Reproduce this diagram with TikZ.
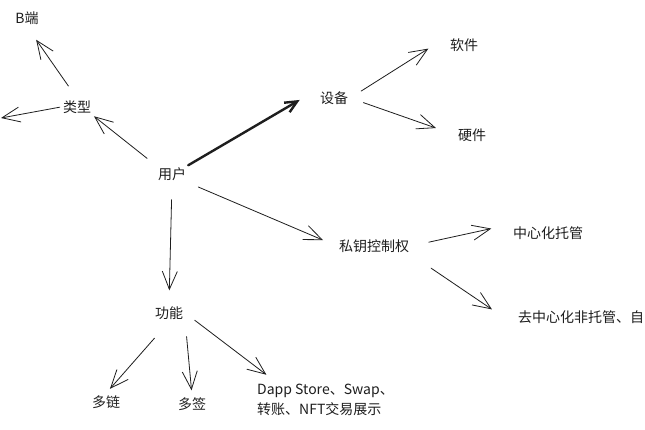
\documentclass[tikz,border=0pt]{standalone}
\usepackage{fontspec}
\setmainfont{Noto Sans CJK SC}
\usetikzlibrary{arrows.meta}

\begin{document}
\begin{tikzpicture}[x=1pt, y=-1pt,
    mapText/.style={font=\fontsize{14}{20}\selectfont, text=inkColour, inner sep=2pt},
    mapArrow/.style={draw=inkColour, line width=0.8pt, line cap=round, -{Straight Barb[length=18pt,width=15pt]}},
    mapArrowBold/.style={mapArrow, line width=2.4pt, -{Straight Barb[length=12pt,width=11pt]}}]
    \definecolor{inkColour}{HTML}{1E1E1E}

    % Page
    \fill[white] (0,0) rectangle (645,430);
    \useasboundingbox (0,0) rectangle (645,430);

    % Topics
    \node[mapText] (yh) at (172,174) {用户};
    \node[mapText] (lx) at (77,107) {类型};
    \node[mapText] (bd) at (27,18) {B端};
    \node[mapText] (sb) at (334,98) {设备};
    \node[mapText] (rj) at (464,45) {软件};
    \node[mapText] (yj) at (472,135) {硬件};
    \node[mapText] (sy) at (374,246) {私钥控制权};
    \node[mapText] (zx) at (548,233) {中心化托管};
    \node[mapText, anchor=west] (qz) at (516,317) {去中心化非托管、自};
    \node[mapText] (gn) at (169,313) {功能};
    \node[mapText] (dl) at (106,402) {多链};
    \node[mapText] (dq) at (192,404) {多签};
    \node[mapText, anchor=north west, align=left] (dp) at (255,382) {Dapp Store、Swap、\\转账、NFT交易展示};
    \coordinate (lxEnd) at (1,118);

    % Branches of the user
    \draw[mapArrow, shorten <=11pt, shorten >=1pt] (yh.north west) -- (lx.south east);
    \draw[mapArrowBold, shorten >=21pt] (yh.north east) -- (sb.north west);
    \draw[mapArrow, shorten <=11pt, shorten >=15pt] (yh.south east) -- (sy.west);
    \draw[mapArrow, shorten <=17pt, shorten >=14pt] (yh.south) -- (gn.north);

    % Type
    \draw[mapArrow, shorten <=15pt, shorten >=16pt] (lx.north) -- (bd.south);
    \draw[mapArrow, shorten <=1pt] (lx.west) -- (lxEnd);

    % Device
    \draw[mapArrow, shorten <=13pt, shorten >=23pt] (sb.east) -- (rj.north west);
    \draw[mapArrow, shorten <=14pt, shorten >=21pt] (sb.east) -- (yj.west);

    % Key control
    \draw[mapArrow, shorten <=18pt, shorten >=20pt] (sy.east) -- (zx.north west);
    \draw[mapArrow, shorten <=24pt, shorten >=29pt] (sy.south east) -- (qz.south west);

    % Functions
    \draw[mapArrow, shorten <=22pt, shorten >=6pt] (gn.south) -- (dl.north);
    \draw[mapArrow, shorten <=15pt, shorten >=5pt] (gn.south east) -- (dq.north);
    \draw[mapArrow, shorten <=12pt, shorten >=12pt] (gn.east) -- (dp.160);

\end{tikzpicture}
\end{document}
